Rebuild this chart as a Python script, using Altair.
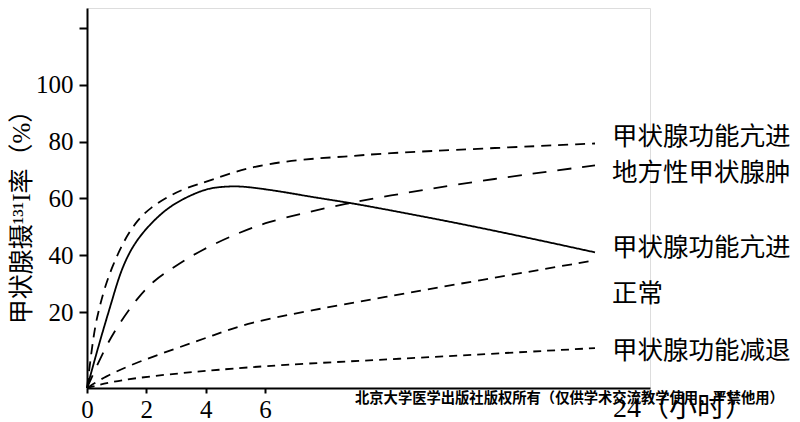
import altair as alt
import pandas as pd

# ---- data ----
series_ids = ["A", "B", "C", "D", "E"]

A_h = [0, 0.24, 0.40, 0.57, 0.84, 1.25, 1.69, 2.15, 2.70, 3.27, 4.17, 5.39, 7.75, 10.47, 12.27, 17.73, 24]
A_v = [0, 15.3, 20.7, 27.7, 35.8, 45.3, 52.3, 56.8, 60.4, 63.5, 66.3, 70.9, 73.7, 74.7, 75.8, 77.5, 79.3]

B_h = [0, 0.44, 0.85, 1.14, 1.58, 2.15, 2.70, 3.27, 3.83, 4.28, 4.92, 5.39, 6.82, 8.62, 10.47, 12.27, 17.73, 24]
B_v = [0, 12.6, 24.2, 34.7, 44.2, 51.2, 56.5, 60.0, 62.6, 63.9, 64.3, 64.1, 62.5, 60.4, 58.6, 56.5, 49.8, 41.0]

C_h = [0, 0.57, 1.01, 1.69, 2.26, 2.93, 3.83, 5.16, 6.11, 8.29, 10.47, 12.27, 17.73, 24]
C_v = [0, 10.0, 16.1, 24.9, 31.2, 35.8, 41.8, 48.1, 51.6, 55.1, 58.2, 60.4, 66.3, 71.6]

D_h = [0, 0.57, 1.69, 3.03, 4.28, 5.39, 8.62, 12.27, 17.73, 24]
D_v = [0, 2.9, 6.8, 10.5, 13.9, 17.1, 20.7, 25.0, 31.2, 38.2]

E_h = [0, 1.01, 3.13, 4.28, 6.82, 12.27, 24]
E_v = [0, 2.1, 3.9, 4.7, 6.1, 7.4, 10.5]

label_text = ["甲状腺功能亢进", "地方性甲状腺肿", "甲状腺功能亢进", "正常", "甲状腺功能减退"]
label_v = [81.7, 68.8, 42.4, 26.4, 9.7]

x_ticks = [0, 2, 4, 6]
y_ticks = [20, 40, 60, 80, 100, 120]
y_title = "甲状腺摄¹³¹I率（%）"
x_end_label = "24（小时）"
watermark = "北京大学医学出版社版权所有（仅供学术交流教学使用，严禁他用）"

# ---- build table ----
rows = []
for sid, hs, vs in zip(series_ids, [A_h, B_h, C_h, D_h, E_h], [A_v, B_v, C_v, D_v, E_v]):
    for i, (h, v) in enumerate(zip(hs, vs)):
        rows.append({"s": sid, "h": h, "v": v, "o": i})
df = pd.DataFrame(rows)

W, H = 563, 380
SERIF = "Liberation Serif, Noto Sans CJK SC"
CJK = "Noto Sans CJK SC"

xscale = alt.Scale(domain=[0, 6, 24, 27], range=[0, 178, 508, 563], nice=False, zero=False)
yscale = alt.Scale(domain=[0, 20, 127], range=[380, 304, 0], nice=False, zero=False)

lines = alt.Chart(df).mark_line(color="black", strokeWidth=1.8, interpolate="basis").encode(
    x=alt.X("h:Q", scale=xscale,
            axis=alt.Axis(values=x_ticks, title=None, grid=False, domainColor="black", domainWidth=2,
                          tickColor="black", tickWidth=2, tickSize=5, labelPadding=4,
                          labelFont=SERIF, labelFontSize=25, labelColor="black", labelFlush=False)),
    y=alt.Y("v:Q", scale=yscale,
            axis=alt.Axis(values=y_ticks, title=None, grid=False, domainColor="black", domainWidth=2,
                          tickColor="black", tickWidth=2, tickSize=8, labelPadding=6,
                          labelFont=SERIF, labelFontSize=25, labelColor="black",
                          labelExpr="datum.value == 120 ? '' : datum.label")),
    detail="s:N",
    order="o:Q",
    strokeDash=alt.StrokeDash("s:N", legend=None,
                              scale=alt.Scale(domain=series_ids,
                                              range=[[10, 7], [1, 0], [14, 11], [10, 7], [8, 6]])),
)

lab_df = pd.DataFrame({"h": [24] * len(label_text), "v": label_v, "t": label_text})
labels = alt.Chart(lab_df).mark_text(align="left", baseline="middle", dx=17, font=CJK,
                                     fontSize=25.5, color="black").encode(
    x=alt.X("h:Q", scale=xscale), y=alt.Y("v:Q", scale=yscale), text="t:N")

end_df = pd.DataFrame({"h": [24], "t": [x_end_label]})
end_lab = alt.Chart(end_df).mark_text(align="left", baseline="middle", dx=18, font=SERIF,
                                      fontSize=28, color="black").encode(
    x=alt.X("h:Q", scale=xscale), y=alt.value(401), text="t:N")

title_df = pd.DataFrame({"t": [y_title]})
ytitle = alt.Chart(title_df).mark_text(angle=270, align="center", baseline="middle", font=SERIF,
                                       fontSize=25, color="black").encode(
    x=alt.value(-65), y=alt.value(203), text="t:N")

wm_df = pd.DataFrame({"t": [watermark]})
wm = alt.Chart(wm_df).mark_text(align="left", baseline="middle", font=CJK, fontSize=14.3,
                                fontWeight="bold", color="black").encode(
    x=alt.value(268), y=alt.value(391), text="t:N")

chart = alt.layer(lines, labels, end_lab, ytitle, wm).properties(
    width=W, height=H,
    autosize=alt.AutoSizeParams(type="none"),
    padding={"left": 79, "top": 0, "right": 142, "bottom": 34},
).configure_view(stroke="transparent", strokeWidth=0).configure(background="white")

chart.save("out.html", embed_options={"renderer": "svg", "actions": False})
